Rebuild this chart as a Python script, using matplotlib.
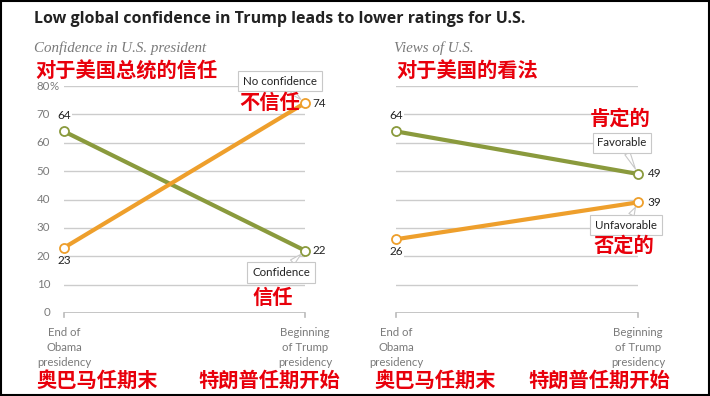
import numpy as np
import matplotlib
matplotlib.use("Agg")
import matplotlib.pyplot as plt
from matplotlib.patches import Rectangle

# data
periods = ["End of\nObama\npresidency", "Beginning\nof Trump\npresidency"]
periods_cn = ["奥巴马任期末", "特朗普任期开始"]
conf_yes = [64, 22]
conf_no = [23, 74]
view_fav = [64, 49]
view_unfav = [26, 39]
yticks = [0, 10, 20, 30, 40, 50, 60, 70, 80]

GREEN = "#8a9a3d"
ORANGE = "#ee9f2c"
RED = "#e8000b"
GRID = "#cccccc"
GRAY = "#7a7a7a"
CJK = ["Noto Sans CJK SC", "DejaVu Sans"]
SANS = "Lato"

W, H = 710, 396
fig = plt.figure(figsize=(W / 100, H / 100), dpi=100)


def px_axes(x0, x1, ytop, ybot):
    return fig.add_axes([x0 / W, (H - ybot) / H, (x1 - x0) / W, (ybot - ytop) / H])


def red(ax, x, y, s, dx, dy, ha="center"):
    ax.annotate(s, xy=(x, y), xytext=(dx, dy), textcoords="offset pixels",
                ha=ha, va="center", fontsize=14.6, color=RED, family=CJK,
                weight="bold", zorder=7, annotation_clip=False)


def base_axes(ax, cn_off):
    ax.set_xlim(0, 1)
    ax.set_ylim(0, 80)
    ax.axis("off")
    for v in yticks[1:]:
        ax.plot([0, 1], [v, v], color=GRID, lw=1, zorder=1)
    ax.plot([0, 1], [0, 0], color="#bbbbbb", lw=1.2, zorder=1)
    for x in [0, 1]:
        ax.plot([x, x], [0, -1.5], color="#bbbbbb", lw=1.2, clip_on=False)
        ax.text(x, -5.0, periods[x], ha="center", va="top", fontsize=8.2,
                color=GRAY, family=SANS, linespacing=1.45)
    red(ax, 0, 0, periods_cn[0], cn_off[0], -67, ha="left")
    red(ax, 1, 0, periods_cn[1], cn_off[1], -67, ha="right")


def series(ax, vals, color):
    ax.plot([0, 1], vals, color=color, lw=3, solid_capstyle="round", zorder=3,
            clip_on=False)
    ax.plot([0, 1], vals, ls="none", marker="o", ms=6.5, mfc="white",
            mec=color, mew=1.3, zorder=4, clip_on=False)


def callout(ax, text, val, dx, dy):
    ax.annotate(text, xy=(1, val), xytext=(dx, dy), textcoords="offset pixels",
                ha="center", va="center", fontsize=8.3, family=SANS,
                color="#222222", zorder=6, annotation_clip=False,
                bbox=dict(boxstyle="square,pad=0.4", fc="white",
                          ec="#c8c8c8", lw=0.8),
                arrowprops=dict(arrowstyle="wedge,tail_width=0.5",
                                fc="white", ec="#c8c8c8", lw=0.8,
                                shrinkA=0, shrinkB=4))


def lab(ax, x, y, s, **kw):
    ax.text(x, y, s, fontsize=8.5, family=SANS, color="#222222", zorder=5,
            clip_on=False, **kw)


# left panel
ax1 = px_axes(64, 305, 86, 313)
base_axes(ax1, (-28, 35))
for v in yticks:
    ax1.text(-0.058, v, str(v), ha="right", va="center", fontsize=8.3,
             color=GRAY, family=SANS)
ax1.text(-0.061, 80, "%", ha="left", va="center", fontsize=8.3,
         color=GRAY, family=SANS)
series(ax1, conf_yes, GREEN)
series(ax1, conf_no, ORANGE)
lab(ax1, 0, conf_yes[0] + 3.5, str(conf_yes[0]), ha="center", va="bottom",
    bbox=dict(fc="white", ec="none", pad=0.5))
lab(ax1, 0, conf_no[0] - 2.5, str(conf_no[0]), ha="center", va="top")
lab(ax1, 1.03, conf_no[1], str(conf_no[1]), ha="left", va="center")
lab(ax1, 1.03, conf_yes[1], str(conf_yes[1]), ha="left", va="center")
callout(ax1, "No confidence", conf_no[1], -25, 22)
callout(ax1, "Confidence", conf_yes[1], -24, -22)
red(ax1, 1, conf_no[1], "不信任", -35, 1)
red(ax1, 1, conf_yes[1], "信任", -32, -47)

# right panel
ax2 = px_axes(396, 638, 86, 313)
base_axes(ax2, (-22, 32))
series(ax2, view_fav, GREEN)
series(ax2, view_unfav, ORANGE)
lab(ax2, 0, view_fav[0] + 3.5, str(view_fav[0]), ha="center", va="bottom",
    bbox=dict(fc="white", ec="none", pad=0.5))
lab(ax2, 0, view_unfav[0] - 2.5, str(view_unfav[0]), ha="center", va="top",
    bbox=dict(fc="white", ec="none", pad=0.5))
lab(ax2, 1.04, view_fav[1], str(view_fav[1]), ha="left", va="center")
lab(ax2, 1.04, view_unfav[1], str(view_unfav[1]), ha="left", va="center")
callout(ax2, "Favorable", view_fav[1], -16, 31)
callout(ax2, "Unfavorable", view_unfav[1], -12, -23)
red(ax2, 1, view_fav[1], "肯定的", -18, 56)
red(ax2, 1, view_unfav[1], "否定的", -14, -43)

# titles
fig.text(34 / W, 1 - 19 / H, "Low global confidence in Trump leads to lower ratings for U.S.",
         ha="left", va="center", fontsize=11.5, weight="bold", family="Open Sans",
         color="#222222")
fig.text(34 / W, 1 - 48 / H, "Confidence in U.S. president", ha="left",
         va="center", fontsize=10.8, style="italic", family="Liberation Serif",
         color=GRAY)
fig.text(394 / W, 1 - 48 / H, "Views of U.S.", ha="left",
         va="center", fontsize=10.8, style="italic", family="Liberation Serif",
         color=GRAY)
fig.text(35 / W, 1 - 71 / H, "对于美国总统的信任", ha="left", va="center",
         fontsize=14.6, color=RED, family=CJK, weight="bold")
fig.text(396 / W, 1 - 70 / H, "对于美国的看法", ha="left", va="center",
         fontsize=14.6, color=RED, family=CJK, weight="bold")

fig.patches.append(Rectangle((0.001, 0.002), 0.997, 0.995, transform=fig.transFigure,
                             fill=False, ec="black", lw=1.5))

fig.savefig("out.png", dpi=100)
